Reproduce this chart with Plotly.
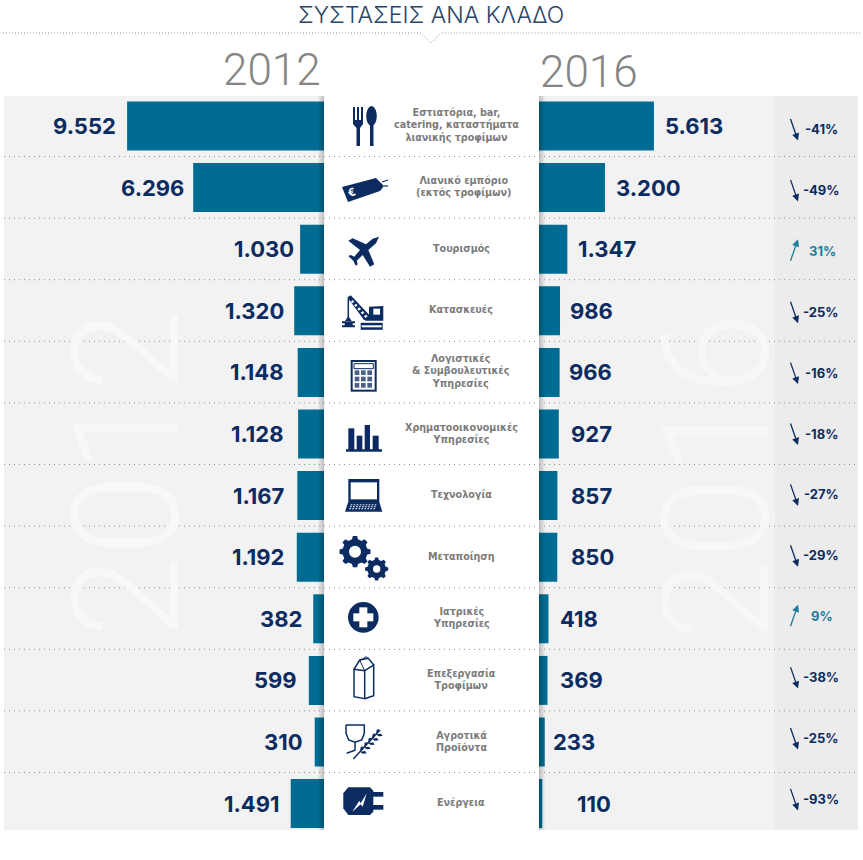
import math
import plotly.graph_objects as go

# data
sectors = ["Εστιατόρια, bar,<br>catering, καταστήματα<br>λιανικής τροφίμων",
           "Λιανικό εμπόριο<br>(εκτός τροφίμων)", "Τουρισμός", "Κατασκευές",
           "Λογιστικές<br>& Συμβουλευτικές<br>Υπηρεσίες",
           "Χρηματοοικονομικές<br>Υπηρεσίες", "Τεχνολογία", "Μεταποίηση",
           "Ιατρικές<br>Υπηρεσίες", "Επεξεργασία<br>Τροφίμων",
           "Αγροτικά<br>Προϊόντα", "Ενέργεια"]
v2012 = [9552, 6296, 1030, 1320, 1148, 1128, 1167, 1192, 382, 599, 310, 1491]
v2016 = [5613, 3200, 1347, 986, 966, 927, 857, 850, 418, 369, 233, 110]
pct = ["-41%", "-49%", "31%", "-25%", "-16%", "-18%", "-27%", "-29%", "9%", "-38%", "-25%", "-93%"]

# layout helpers (pixels)
W, H = 863, 860
NAVY = "#0c2b60"
TEAL = "#006c93"
UP = "#1d7d9b"
PX = 0.0203          # px per unit on both bar axes
ROW0, ROWH = 126, 61.6
gap12 = [9, 7, 4, 8, 12, 12, 11, 11, 9, 10, 10, 10]
gap16 = [9, 9, 9, 8, 7, 10, 12, 12, 10, 11, 6, 33]
label_x = [456, 463] + [461] * 10
STUB = 500           # bars run on behind the white panel


def fmt(v):
    return f"{v:,}".replace(",", ".")


def poly(pts, ox=0, oy=0, s=1.0):
    return "M" + " L".join(f"{ox + x * s:.1f} {oy + y * s:.1f}" for x, y in pts) + " Z"


def line(pts, ox=0, oy=0, s=1.0):
    return "M" + " L".join(f"{ox + x * s:.1f} {oy + y * s:.1f}" for x, y in pts)


shapes = []


def sh(**kw):
    kw.setdefault("xref", "x3")
    kw.setdefault("yref", "y3")
    if "line" not in kw:
        kw["line_width"] = 0
    shapes.append(kw)


def fill(path, color=NAVY):
    sh(type="path", path=path, fillcolor=color)


def stroke(path, width=1.5, color=NAVY, **kw):
    sh(type="path", path=path, line=dict(color=color, width=width, **kw))


def rect(x0, y0, x1, y1, color=NAVY, **kw):
    sh(type="rect", x0=x0, y0=y0, x1=x1, y1=y1, fillcolor=color, **kw)


def oval(cx, cy, rx, ry, color=NAVY):
    sh(type="circle", x0=cx - rx, x1=cx + rx, y0=cy - ry, y1=cy + ry, fillcolor=color)


def back(x0, y0, x1, y1, color):
    # paper-referenced so it stays under the bars
    sh(type="rect", xref="paper", yref="paper", x0=x0 / W, x1=x1 / W, y0=1 - y0 / H, y1=1 - y1 / H,
       fillcolor=color, layer="below")


# row backgrounds
back(4, 96, 775, 830, "#f2f2f2")
back(775, 96, 858, 830, "#ececec")

# white centre panel with soft sides
for k in range(6):
    rect(324 - k - 1, 96, 324, 830, "rgba(0,0,0,0.035)")
    rect(539, 96, 539 + k + 1, 830, "rgba(0,0,0,0.035)")
rect(324, 96, 539, 832, "white")

# dotted separators
for i in range(11):
    y = 156.5 + ROWH * i
    sh(type="line", x0=4, x1=858, y0=y, y1=y, line=dict(color="#8f8f8f", width=1, dash="1px,4px"))
stroke(line([(3, 33), (421, 33), (431, 43), (441, 33), (860, 33)]), 1, "rgba(120,130,140,0.8)", dash="1px,2px")

# fork and spoon
for x in (353, 357, 361):
    rect(x, 107, x + 2, 121)
fill(poly([(353, 120), (363, 120), (363, 124), (360, 128), (360, 146), (356.5, 146), (356.5, 128), (353, 124)]))
oval(371.5, 116, 5.3, 10)
rect(370, 122, 373.5, 146)

# price tag
fill(poly([(342, 187), (376, 178), (384, 186), (380, 191), (348, 202)]))
stroke(line([(382, 182), (388, 180)]), 1.2)
stroke(line([(384, 186), (388, 186)]), 1.2)

# plane
Z2 = dict(ox=320, oy=220, s=1 / 3)
Z3 = dict(ox=320, oy=525, s=1 / 3)
fill(poly([(177, 50), (158, 56), (138, 73), (98, 55), (85, 62), (120, 90), (103, 110), (92, 105), (85, 108),
           (100, 122), (107, 137), (113, 133), (110, 122), (128, 105), (150, 140), (163, 133), (145, 90),
           (168, 70)], **Z2))

# crane
fill(poly([(82, 232), (92, 226), (148, 285), (148, 300), (132, 300)], **Z2))
for t in range(5):
    fill(poly([(92 + t * 10, 245 + t * 11), (98 + t * 10, 240 + t * 11), (103 + t * 10, 245 + t * 11),
               (97 + t * 10, 250 + t * 11)], **Z2), "white")
fill(poly([(147, 260), (190, 258), (190, 302), (135, 302), (147, 285)], **Z2))
rect(320 + 160 / 3, 220 + 266 / 3, 320 + 180 / 3, 220 + 284 / 3, "white")
stroke(line([(85, 235), (85, 292)], **Z2), 1.5)
fill(poly([(75, 303), (85, 288), (95, 303)], **Z2))
fill(poly([(66, 304), (105, 304), (105, 310), (98, 310), (98, 316), (105, 316), (105, 322), (66, 322), (66, 316),
           (74, 316), (74, 310), (66, 310)], **Z2))
stroke(line([(122, 319), (188, 319)], **Z2), 7)
stroke(line([(125, 319), (185, 319)], **Z2), 2, "white")

# calculator
rect(320 + 92 / 3, 220 + 420 / 3, 320 + 170 / 3, 220 + 515 / 3)
rect(320 + 98 / 3, 220 + 426 / 3, 320 + 164 / 3, 220 + 509 / 3, "white")
rect(320 + 102 / 3, 220 + 431 / 3, 320 + 160 / 3, 220 + 446 / 3, "white", line=dict(color=NAVY, width=1))
for r in range(3):
    for c in range(3):
        rect(320 + (104 + c * 19) / 3, 220 + (451 + r * 19) / 3, 320 + (118 + c * 19) / 3, 220 + (465 + r * 19) / 3,
             "rgba(12,43,96,0.75)")

# little bar chart icon
for x0, x1, top in [(85, 103, 625), (110, 127, 647), (134, 150, 615), (158, 176, 647)]:
    rect(320 + x0 / 3, 220 + top / 3, 320 + x1 / 3, 220 + 692 / 3)
rect(320 + 78 / 3, 220 + 688 / 3, 320 + 186 / 3, 220 + 695 / 3)

# laptop
rect(320 + 85 / 3, 220 + 777 / 3, 320 + 178 / 3, 220 + 846 / 3)
rect(320 + 92 / 3, 220 + 787 / 3, 320 + 171 / 3, 220 + 838 / 3, "white")
fill(poly([(85, 845), (178, 845), (187, 875), (75, 875)], **Z2))
for r in range(3):
    for c in range(9):
        rect(320 + (92 + c * 9 - r * 2) / 3, 220 + (837 + 16 + r * 6) / 3,
             320 + (97 + c * 9 - r * 2) / 3, 220 + (840 + 16 + r * 6) / 3, "white")


# gears
def gear(cx, cy, ro, ri, teeth):
    pts = []
    for k in range(teeth):
        a = 2 * math.pi * k / teeth
        d = 2 * math.pi / teeth
        for off, r in [(-0.30, ri), (-0.17, ro), (0.17, ro), (0.30, ri)]:
            pts.append((cx + r * math.cos(a + off * d), cy + r * math.sin(a + off * d)))
    return pts


fill(poly(gear(105, 80, 47, 38, 8), **Z3))
oval(320 + 105 / 3, 525 + 80 / 3, 18 / 3, 18 / 3, "white")
fill(poly(gear(170, 132, 35, 28, 8), **Z3))
oval(320 + 170 / 3, 525 + 132 / 3, 11 / 3, 11 / 3, "white")

# medical cross
oval(320 + 130 / 3, 525 + 277 / 3, 46 / 3, 46 / 3)
rect(320 + 118 / 3, 525 + 247 / 3, 320 + 142 / 3, 525 + 307 / 3, "white")
rect(320 + 100 / 3, 525 + 265 / 3, 320 + 160 / 3, 525 + 289 / 3, "white")

# milk carton
stroke(poly([(102, 433), (134, 437), (134, 521), (102, 515)], **Z3))
stroke(line([(134, 437), (161, 420), (161, 512), (134, 521)], **Z3))
stroke(line([(102, 433), (119, 405), (145, 400), (161, 420)], **Z3))
stroke(line([(119, 405), (134, 437)], **Z3), 1)
stroke(line([(115, 410), (138, 395), (145, 400)], **Z3), 1)

# glass and wheat
stroke(line([(78, 600), (133, 600), (133, 625), (125, 645), (105, 652), (86, 645), (78, 625), (78, 600)], **Z3), 1.5)
stroke(line([(105, 652), (105, 676), (80, 685)], **Z3), 1.5)
stroke(line([(100, 702), (180, 615)], **Z3), 1.5)
for t in range(5):
    mx, my = 120 + t * 12, 680 - t * 13
    fill(poly([(mx, my), (mx + 2, my - 14), (mx + 10, my - 16), (mx + 7, my - 7)], **Z3))
    fill(poly([(mx, my), (mx + 15, my - 2), (mx + 20, my + 5), (mx + 8, my + 6)], **Z3))

# plug
fill(poly([(85, 787), (150, 787), (160, 797), (160, 860), (150, 870), (85, 870), (70, 850), (70, 805)], **Z3))
rect(320 + 155 / 3, 525 + 801 / 3, 320 + 190 / 3, 525 + 815 / 3)
rect(320 + 155 / 3, 525 + 840 / 3, 320 + 190 / 3, 525 + 854 / 3)
fill(poly([(97, 860), (118, 827), (122, 835), (140, 805), (128, 845), (122, 838)], **Z3), "white")

# axes: px position of each bar axis' zero, left and right of the panel
L0, R0 = 321, 540
dom_l = (4, 330)
dom_r = (530, 858)

fig = go.Figure()
fig.add_trace(go.Bar(y=list(range(12)), x=[v + STUB for v in v2012], base=-STUB, orientation="h",
                     marker_color=TEAL, marker_line_width=0, width=0.795, xaxis="x", yaxis="y"))
fig.add_trace(go.Bar(y=list(range(12)), x=[v + STUB for v in v2016], base=-STUB, orientation="h",
                     marker_color=TEAL, marker_line_width=0, width=0.795, xaxis="x2", yaxis="y2"))

annotations = []


def note(text, x, y, size, color=NAVY, family="Inter", weight="bold", xref="x3", yref="y3", **kw):
    annotations.append(dict(text=text, x=x, y=y, xref=xref, yref=yref, showarrow=False,
                            font=dict(family=family, size=size, color=color, weight=weight), **kw))


# faint vertical years
note("2012", 127, 474, 148, "#f8f8f8", "Roboto", 300, textangle=-90)
note("2016", 717, 477, 148, "#f7f7f7", "Roboto", 300, textangle=-90)

# headers
note("ΣΥΣΤΑΣΕΙΣ ΑΝΑ ΚΛΑΔΟ", 431, 15, 23, "#2b4568", "Inter", 300)
note("2012", 323, 70, 44, "#858585", "Roboto", 300, xanchor="right")
note("2016", 538, 72, 44, "#858585", "Roboto", 300, xanchor="left")

for i in range(12):
    note(fmt(v2012[i]), v2012[i], i, 22, xref="x", yref="y", xanchor="right", xshift=-gap12[i])
    note(fmt(v2016[i]), v2016[i], i, 22, xref="x2", yref="y2", xanchor="left", xshift=gap16[i])
    cy = ROW0 + ROWH * i
    note(sectors[i], label_x[i], cy - 1, 9.6, "#7b7b7b", "DejaVu Sans", "bold")
    py = 129 + 60.9 * i
    up = pct[i][0] != "-"
    col = UP if up else NAVY
    note(pct[i], 821 + (1 if up else 0), py, 13, col)
    annotations.append(dict(x=798, y=py - 11.5 if up else py + 11.5, xref="x3", yref="y3",
                            ax=-8, ay=23 if up else -23, text="", showarrow=True, arrowhead=2,
                            arrowsize=1.1, arrowwidth=1.3, arrowcolor=col))

note("€", 352, 192, 11, "white", "Inter", "bold", textangle=-20)

fig.update_layout(
    width=W, height=H, margin=dict(l=0, r=0, t=0, b=0),
    paper_bgcolor="white", plot_bgcolor="rgba(0,0,0,0)",
    showlegend=False, barmode="overlay",
    xaxis=dict(domain=[dom_l[0] / W, dom_l[1] / W], range=[(L0 - dom_l[0]) / PX, (L0 - dom_l[1]) / PX],
               visible=False, anchor="y"),
    yaxis=dict(domain=[1 - (ROW0 + 11.5 * ROWH) / H, 1 - (ROW0 - 0.5 * ROWH) / H], range=[11.5, -0.5],
               visible=False, anchor="x"),
    xaxis2=dict(domain=[dom_r[0] / W, dom_r[1] / W], range=[(dom_r[0] - R0) / PX, (dom_r[1] - R0) / PX],
                visible=False, anchor="y2"),
    yaxis2=dict(domain=[1 - (ROW0 + 11.5 * ROWH) / H, 1 - (ROW0 - 0.5 * ROWH) / H], range=[11.5, -0.5],
                visible=False, anchor="x2"),
    xaxis3=dict(domain=[0, 1], range=[0, W], visible=False, anchor="y3"),
    yaxis3=dict(domain=[0, 1], range=[H, 0], visible=False, anchor="x3"),
    shapes=shapes, annotations=annotations,
)

# the page's default body margin would push the chart off the window
fig.write_html("out.html", config={"displayModeBar": False}, post_script="document.body.style.margin='0';")
